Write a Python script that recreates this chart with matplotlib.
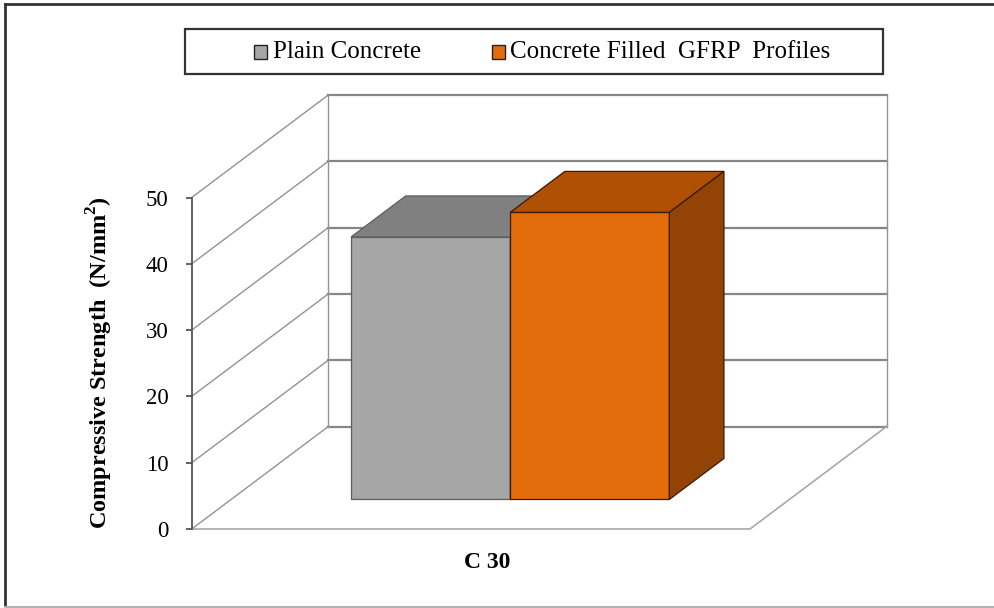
import matplotlib
matplotlib.use("Agg")
import matplotlib.pyplot as plt
from matplotlib.patches import Polygon, Rectangle
from matplotlib.lines import Line2D

# ---------------- data ----------------
categories = ["C 30"]
series_names = ["Plain Concrete", "Concrete Filled  GFRP  Profiles"]
plain_values = [39.6]
gfrp_values = [43.3]
y_ticks = [0, 10, 20, 30, 40, 50]
y_label = "Compressive Strength  (N/mm$^{\\mathbf{2}}$)"

# ---------------- style ----------------
W, H = 995, 608
plt.rcParams['font.family'] = ['Liberation Serif', 'DejaVu Serif']
plt.rcParams['mathtext.fontset'] = 'custom'
plt.rcParams['mathtext.rm'] = 'Liberation Serif'
plt.rcParams['mathtext.bf'] = 'Liberation Serif:bold'

fig = plt.figure(figsize=(W / 100, H / 100), dpi=100)

def fx(px):
    return px / W

def fy(py):
    return (H - py) / H

# front plane of the 3D box in pixels
x0p, x1p, y0p, y1p = 191.7, 750.0, 529.0, 197.5
ax = fig.add_axes([fx(x0p), fy(y0p), fx(x1p) - fx(x0p), fy(y1p) - fy(y0p)])
ax.set_xlim(0, 1)
ax.set_ylim(0, 50)
ax.patch.set_alpha(0)

DX = 136.6 / (x1p - x0p)                 # depth offset in x data units
DY = 102.5 / ((y0p - y1p) / 50.0)        # depth offset in y data units
ymax = y_ticks[-1]

def proj(x, y, d):
    return (x + d * DX, y + d * DY)

wall_c = '#939393'
grid_c = '#878787'

# left wall diagonals
for v in y_ticks:
    p0 = proj(0, v, 0); p1 = proj(0, v, 1)
    ax.add_line(Line2D([p0[0], p1[0]], [p0[1], p1[1]], color=wall_c, lw=1.0,
                       clip_on=False, zorder=1))
# back wall gridlines
for v in y_ticks:
    p0 = proj(0, v, 1); p1 = proj(1, v, 1)
    ax.add_line(Line2D([p0[0], p1[0]], [p0[1], p1[1]], color=grid_c, lw=1.6,
                       clip_on=False, zorder=1))
# back wall vertical edges
for xv in (0, 1):
    p0 = proj(xv, 0, 1); p1 = proj(xv, ymax, 1)
    ax.add_line(Line2D([p0[0], p1[0]], [p0[1], p1[1]], color=wall_c, lw=1.0,
                       clip_on=False, zorder=1))
# floor front edge and right edge
pa = proj(0, 0, 0); pb = proj(1, 0, 0); pc = proj(1, 0, 1)
ax.add_line(Line2D([pa[0], pb[0], pc[0]], [pa[1], pb[1], pc[1]], color='#a8a8a8',
                   lw=1.2, clip_on=False, zorder=1))

# ---------------- bars ----------------
bar_w = 0.285
d0, d1 = 0.288, 0.688
specs = [
    (plain_values, '#a6a6a6', '#808080', '#7a7a7a', '#5e5e5e'),
    (gfrp_values, '#e36c0a', '#b05005', '#924305', '#3d1a00'),
]
n = len(specs)
for ci, cat in enumerate(categories):
    center = 0.5 + ci
    for si, (vals, c_front, c_top, c_side, c_edge) in enumerate(specs):
        v = vals[ci]
        L = center - n * bar_w / 2 + si * bar_w
        R = L + bar_w
        z = 3 + si
        # front face through ax.bar
        ax.bar(L + d0 * DX, v, width=bar_w, bottom=d0 * DY, align='edge',
               color=c_front, edgecolor=c_edge, linewidth=0.9, zorder=z,
               clip_on=False)
        top = [proj(L, v, d0), proj(R, v, d0), proj(R, v, d1), proj(L, v, d1)]
        ax.add_patch(Polygon(top, closed=True, facecolor=c_top, edgecolor=c_edge,
                             lw=0.9, zorder=z, clip_on=False))
        side = [proj(R, 0, d0), proj(R, v, d0), proj(R, v, d1), proj(R, 0, d1)]
        ax.add_patch(Polygon(side, closed=True, facecolor=c_side, edgecolor=c_edge,
                             lw=0.9, zorder=z, clip_on=False))

# ---------------- axes styling ----------------
for s in ('top', 'right', 'bottom'):
    ax.spines[s].set_visible(False)
ax.spines['left'].set_color('#555555')
ax.spines['left'].set_linewidth(1.3)
ax.set_xticks([])
ax.set_yticks(y_ticks)
ax.set_yticklabels([str(t) for t in y_ticks], fontsize=16.5)
ax.tick_params(axis='y', length=4.5, width=1.3, color='#555555', pad=12)

# y label
fig.text(fx(100), fy(363), y_label, rotation=90, ha='center', va='center',
         fontsize=17.5, fontweight='bold')
# category label
for ci, cat in enumerate(categories):
    fig.text(fx(487), fy(563), cat, ha='center', va='center', fontsize=17,
             fontweight='bold')

# ---------------- legend (manual box) ----------------
fig.patches.append(Rectangle((fx(185), fy(74)), fx(883) - fx(185), fy(29) - fy(74),
                             transform=fig.transFigure, fill=False,
                             edgecolor='#333333', lw=1.6, zorder=5))
leg_items = [(series_names[0], specs[0][1], 254, 273),
             (series_names[1], specs[1][1], 492, 510)]
for name, col, sq_x, tx in leg_items:
    fig.patches.append(Rectangle((fx(sq_x), fy(58.5)), fx(13), 13 / H,
                                 transform=fig.transFigure, facecolor=col,
                                 edgecolor='#222222', lw=1.0, zorder=6))
    fig.text(fx(tx), fy(52), name, ha='left', va='center', fontsize=18)

# ---------------- outer border ----------------
fig.add_artist(Line2D([fx(5), fx(5)], [fy(4), fy(607)], transform=fig.transFigure,
                      color='#333333', lw=2))
fig.add_artist(Line2D([fx(5), fx(995)], [fy(4), fy(4)], transform=fig.transFigure,
                      color='#333333', lw=2))
fig.add_artist(Line2D([fx(5), fx(995)], [fy(607), fy(607)], transform=fig.transFigure,
                      color='#b0b0b0', lw=1.5))

fig.savefig('out.png', dpi=100)
